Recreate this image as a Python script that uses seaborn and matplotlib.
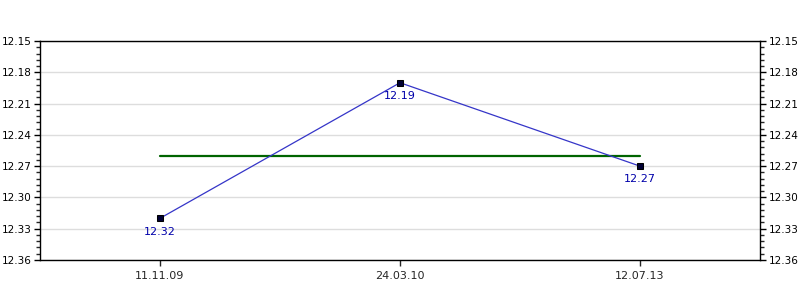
import matplotlib
matplotlib.use("Agg")
import matplotlib.pyplot as plt
import seaborn as sns
import pandas as pd
import numpy as np
from matplotlib.ticker import MultipleLocator, FormatStrFormatter

dates = ["11.11.09", "24.03.10", "12.07.13"]
values = [12.32, 12.19, 12.27]
avg_value = 12.26
yticks = [12.15, 12.18, 12.21, 12.24, 12.27, 12.30, 12.33, 12.36]

sns.set_style("white")
plt.rcParams['font.family'] = ['DejaVu Sans']

df = pd.DataFrame({"date": dates, "value": values})
avg_df = pd.DataFrame({"date": dates, "value": [avg_value] * len(dates)})

fig = plt.figure(figsize=(8, 3), dpi=100)
ax = fig.add_axes([0.05, 0.1333, 0.90, 0.73])

sns.lineplot(data=avg_df, x="date", y="value", ax=ax, color="#006400", linewidth=1.6, sort=False, zorder=2)
sns.lineplot(data=df, x="date", y="value", ax=ax, color="#3535c8", linewidth=0.9, sort=False,
             marker="s", markersize=4, markerfacecolor="#000033", markeredgecolor="#000000", zorder=3)

for i, v in enumerate(values):
    ax.annotate(f"{v:.2f}", (i, v), xytext=(0, -6), textcoords="offset points",
                ha="center", va="top", color="#0000aa", fontsize=8)

ax.set_xlim(-0.5, 2.5)
ax.set_ylim(12.36, 12.15)
ax.set_yticks(yticks)
ax.yaxis.set_major_formatter(FormatStrFormatter("%.2f"))
ax.yaxis.set_minor_locator(MultipleLocator(0.006))
ax.set_xlabel("")
ax.set_ylabel("")
ax.grid(axis="y", color="#dddddd", linewidth=1)
ax.set_axisbelow(True)

for s in ["left", "right", "top", "bottom"]:
    ax.spines[s].set_visible(True)
    ax.spines[s].set_color("black")
    ax.spines[s].set_linewidth(1)

ax.tick_params(axis="y", which="major", length=4, width=1, labelsize=7.5, left=True, right=True,
               labelleft=True, labelright=True, direction="out", colors="black", pad=2)
ax.tick_params(axis="y", which="minor", length=3, width=1, left=True, right=True, direction="out")
ax.tick_params(axis="x", which="major", length=4, width=1, labelsize=8, bottom=True, direction="out", pad=4)

fig.savefig("out.png", dpi=100)
